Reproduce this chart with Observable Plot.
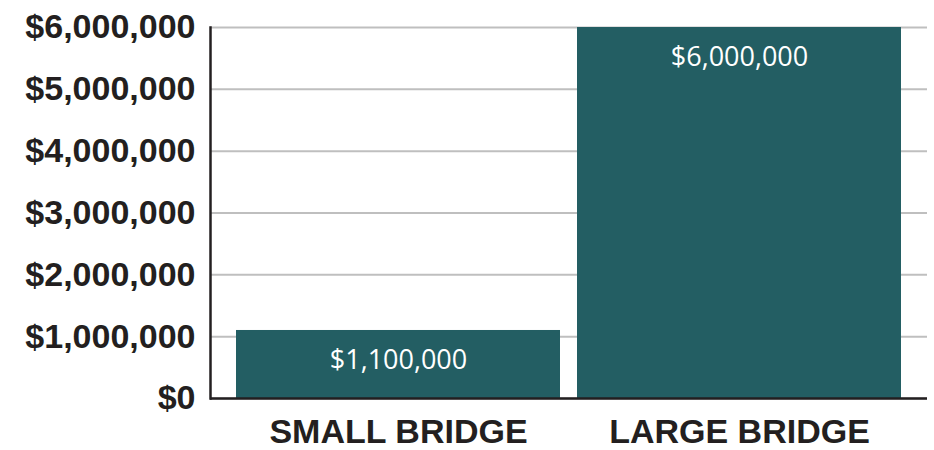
<!DOCTYPE html>
<html><head><meta charset="utf-8">
<script src="https://cdn.jsdelivr.net/npm/d3@7"></script>
<script src="https://cdn.jsdelivr.net/npm/@observablehq/plot@0.6"></script>
<style>body{margin:0;background:#fff}</style>
</head><body><div id="chart"></div>
<script>
const categories = ["SMALL BRIDGE", "LARGE BRIDGE"];
const costs = [1100000, 6000000];
const valueLabels = ["$1,100,000", "$6,000,000"];
const yTicks = [0, 1000000, 2000000, 3000000, 4000000, 5000000, 6000000];
const yTickLabels = ["$0", "$1,000,000", "$2,000,000", "$3,000,000", "$4,000,000", "$5,000,000", "$6,000,000"];

const data = categories.map((c, i) => ({category: c, cost: costs[i], label: valueLabels[i]}));
const tickFmt = d => yTickLabels[yTicks.indexOf(d)];

const chart = Plot.plot({
  width: 934, height: 450,
  marginLeft: 210, marginRight: 7, marginTop: 27, marginBottom: 52,
  style: {background: "#fff", fontFamily: "'Liberation Sans', Arial, sans-serif"},
  x: {domain: categories, paddingInner: 0.05, paddingOuter: 0.076, label: null},
  y: {domain: [0, 6000000], label: null},
  marks: [
    Plot.gridY(yTicks, {stroke: "#bfbfbf", strokeOpacity: 1, strokeWidth: 2}),
    Plot.barY(data, {x: "category", y: "cost", fill: "#235e63"}),
    Plot.text(data, {x: "category", y: "cost", text: "label", dy: 30, fill: "#ffffff",
      fontSize: 27, fontFamily: "'Open Sans', sans-serif", lineAnchor: "middle"}),
    Plot.axisY({ticks: yTicks, tickFormat: tickFmt, tickSize: 0, tickPadding: 15,
      fontSize: 34, fontWeight: "bold", fill: "#231f20", label: null}),
    Plot.axisX({tickSize: 0, tickPadding: 20, fontSize: 34, fontWeight: "bold", fill: "#231f20", label: null}),
    Plot.ruleY([0], {stroke: "#231f20", strokeWidth: 2.5}),
    Plot.frame({anchor: "left", stroke: "#231f20", strokeWidth: 2.5})
  ]
});
document.getElementById("chart").appendChild(chart);
</script>
</body></html>
